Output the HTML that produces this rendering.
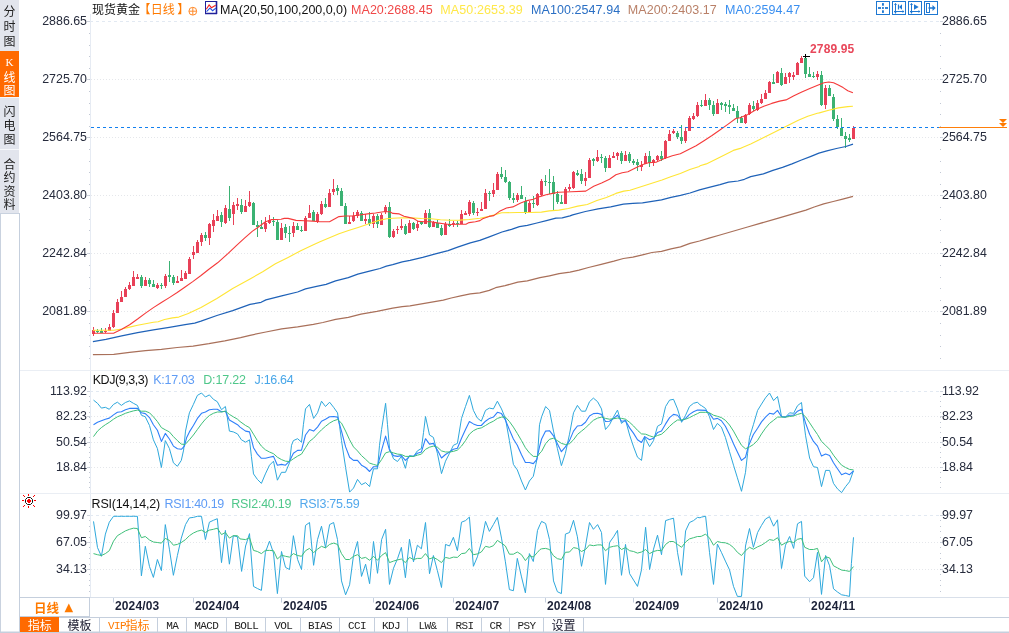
<!DOCTYPE html>
<html lang="zh-CN"><head><meta charset="utf-8"><title>现货黄金 日线</title>
<style>
html,body{margin:0;padding:0;background:#fff;}
body{width:1009px;height:633px;overflow:hidden;position:relative;font-family:"Liberation Sans","Noto Sans CJK SC",sans-serif;}
svg{position:absolute;left:0;top:0;display:block}
text{font-family:"Liberation Sans","Noto Sans CJK SC",sans-serif;}
.ax{font-size:12.4px;fill:#262b3c;}
.ttl{font-size:12.5px;}
.dt{font-size:12px;font-weight:bold;fill:#1c2238;}
.cj{font-family:"Noto Sans CJK SC","Liberation Sans",sans-serif;}
.tab{font-family:"Liberation Mono","Noto Sans CJK SC",monospace;font-size:11px;letter-spacing:-0.6px;fill:#222;}
.side{font-family:"Noto Sans CJK SC","Liberation Sans",sans-serif;font-size:12px;fill:#222;}
.grid{stroke:#e5e7eb;stroke-width:1;stroke-dasharray:1 2;}
.gridd{stroke:#e2e9f2;stroke-width:1;stroke-dasharray:3 3;}
.axl{stroke:#d3dbe8;stroke-width:1;}
.sep{stroke:#dfe5ee;stroke-width:1;}
</style></head><body>
<svg width="1009" height="633" viewBox="0 0 1009 633">
<rect x="0" y="0" width="1009" height="633" fill="#fff"/>
<rect x="0" y="0" width="19" height="213" fill="#e2e5ed"/>
<rect x="0" y="51" width="19" height="46" fill="#ff6a00"/>
<line x1="0" y1="97.5" x2="19" y2="97.5" stroke="#f6f8fb"/>
<line x1="0" y1="149.5" x2="19" y2="149.5" stroke="#f6f8fb"/>
<line x1="0" y1="213.5" x2="19" y2="213.5" stroke="#c9d2df"/>
<line x1="0.5" y1="213" x2="0.5" y2="633" stroke="#c9d2df"/>
<line x1="19.5" y1="213" x2="19.5" y2="633" stroke="#c5cfdd"/>
<text x="9.5" y="16" text-anchor="middle" class="side" fill="#222" style="fill:#222">分</text>
<text x="9.5" y="31" text-anchor="middle" class="side" fill="#222" style="fill:#222">时</text>
<text x="9.5" y="46" text-anchor="middle" class="side" fill="#222" style="fill:#222">图</text>
<text x="9.5" y="65.5" text-anchor="middle" style="font-family:'Liberation Serif',serif;font-size:11px;fill:#fff">K</text>
<text x="9.5" y="81.5" text-anchor="middle" class="side" fill="#fff" style="fill:#fff">线</text>
<text x="9.5" y="95.0" text-anchor="middle" class="side" fill="#fff" style="fill:#fff">图</text>
<text x="9.5" y="115.5" text-anchor="middle" class="side" fill="#222" style="fill:#222">闪</text>
<text x="9.5" y="129.8" text-anchor="middle" class="side" fill="#222" style="fill:#222">电</text>
<text x="9.5" y="144.1" text-anchor="middle" class="side" fill="#222" style="fill:#222">图</text>
<text x="9.5" y="168.5" text-anchor="middle" class="side" fill="#222" style="fill:#222">合</text>
<text x="9.5" y="182.1" text-anchor="middle" class="side" fill="#222" style="fill:#222">约</text>
<text x="9.5" y="195.7" text-anchor="middle" class="side" fill="#222" style="fill:#222">资</text>
<text x="9.5" y="209.3" text-anchor="middle" class="side" fill="#222" style="fill:#222">料</text>
<line x1="90" y1="21.5" x2="939" y2="21.5" class="gridd"/>
<line x1="87" y1="21.5" x2="90" y2="21.5" stroke="#cfd4dd"/>
<line x1="940" y1="21.5" x2="943" y2="21.5" stroke="#cfd4dd"/>
<line x1="91" y1="79.5" x2="939" y2="79.5" class="grid"/>
<line x1="87" y1="79.5" x2="90" y2="79.5" stroke="#cfd4dd"/>
<line x1="940" y1="79.5" x2="943" y2="79.5" stroke="#cfd4dd"/>
<line x1="91" y1="137.5" x2="939" y2="137.5" class="grid"/>
<line x1="87" y1="137.5" x2="90" y2="137.5" stroke="#cfd4dd"/>
<line x1="940" y1="137.5" x2="943" y2="137.5" stroke="#cfd4dd"/>
<line x1="91" y1="195.5" x2="939" y2="195.5" class="grid"/>
<line x1="87" y1="195.5" x2="90" y2="195.5" stroke="#cfd4dd"/>
<line x1="940" y1="195.5" x2="943" y2="195.5" stroke="#cfd4dd"/>
<line x1="91" y1="253.5" x2="939" y2="253.5" class="grid"/>
<line x1="87" y1="253.5" x2="90" y2="253.5" stroke="#cfd4dd"/>
<line x1="940" y1="253.5" x2="943" y2="253.5" stroke="#cfd4dd"/>
<line x1="91" y1="311.5" x2="939" y2="311.5" class="grid"/>
<line x1="87" y1="311.5" x2="90" y2="311.5" stroke="#cfd4dd"/>
<line x1="940" y1="311.5" x2="943" y2="311.5" stroke="#cfd4dd"/>
<line x1="90" y1="391.5" x2="939" y2="391.5" class="gridd"/>
<line x1="87" y1="391.5" x2="90" y2="391.5" stroke="#cfd4dd"/>
<line x1="940" y1="391.5" x2="943" y2="391.5" stroke="#cfd4dd"/>
<line x1="91" y1="416.5" x2="939" y2="416.5" class="grid"/>
<line x1="87" y1="416.5" x2="90" y2="416.5" stroke="#cfd4dd"/>
<line x1="940" y1="416.5" x2="943" y2="416.5" stroke="#cfd4dd"/>
<line x1="91" y1="442.5" x2="939" y2="442.5" class="grid"/>
<line x1="87" y1="442.5" x2="90" y2="442.5" stroke="#cfd4dd"/>
<line x1="940" y1="442.5" x2="943" y2="442.5" stroke="#cfd4dd"/>
<line x1="91" y1="467.5" x2="939" y2="467.5" class="grid"/>
<line x1="87" y1="467.5" x2="90" y2="467.5" stroke="#cfd4dd"/>
<line x1="940" y1="467.5" x2="943" y2="467.5" stroke="#cfd4dd"/>
<line x1="90" y1="515.5" x2="939" y2="515.5" class="gridd"/>
<line x1="87" y1="515.5" x2="90" y2="515.5" stroke="#cfd4dd"/>
<line x1="940" y1="515.5" x2="943" y2="515.5" stroke="#cfd4dd"/>
<line x1="91" y1="542.5" x2="939" y2="542.5" class="grid"/>
<line x1="87" y1="542.5" x2="90" y2="542.5" stroke="#cfd4dd"/>
<line x1="940" y1="542.5" x2="943" y2="542.5" stroke="#cfd4dd"/>
<line x1="91" y1="569.5" x2="939" y2="569.5" class="grid"/>
<line x1="87" y1="569.5" x2="90" y2="569.5" stroke="#cfd4dd"/>
<line x1="940" y1="569.5" x2="943" y2="569.5" stroke="#cfd4dd"/>
<line x1="90.5" y1="14" x2="90.5" y2="597" stroke="#e6ebf3"/>
<rect x="89" y="33" width="1" height="1" fill="#c2c8d4"/>
<rect x="940" y="33" width="1" height="1" fill="#c2c8d4"/>
<rect x="89" y="45" width="1" height="1" fill="#c2c8d4"/>
<rect x="940" y="45" width="1" height="1" fill="#c2c8d4"/>
<rect x="89" y="56" width="1" height="1" fill="#c2c8d4"/>
<rect x="940" y="56" width="1" height="1" fill="#c2c8d4"/>
<rect x="89" y="68" width="1" height="1" fill="#c2c8d4"/>
<rect x="940" y="68" width="1" height="1" fill="#c2c8d4"/>
<rect x="89" y="79" width="1" height="1" fill="#c2c8d4"/>
<rect x="940" y="79" width="1" height="1" fill="#c2c8d4"/>
<rect x="89" y="91" width="1" height="1" fill="#c2c8d4"/>
<rect x="940" y="91" width="1" height="1" fill="#c2c8d4"/>
<rect x="89" y="103" width="1" height="1" fill="#c2c8d4"/>
<rect x="940" y="103" width="1" height="1" fill="#c2c8d4"/>
<rect x="89" y="114" width="1" height="1" fill="#c2c8d4"/>
<rect x="940" y="114" width="1" height="1" fill="#c2c8d4"/>
<rect x="89" y="126" width="1" height="1" fill="#c2c8d4"/>
<rect x="940" y="126" width="1" height="1" fill="#c2c8d4"/>
<rect x="89" y="137" width="1" height="1" fill="#c2c8d4"/>
<rect x="940" y="137" width="1" height="1" fill="#c2c8d4"/>
<rect x="89" y="149" width="1" height="1" fill="#c2c8d4"/>
<rect x="940" y="149" width="1" height="1" fill="#c2c8d4"/>
<rect x="89" y="161" width="1" height="1" fill="#c2c8d4"/>
<rect x="940" y="161" width="1" height="1" fill="#c2c8d4"/>
<rect x="89" y="172" width="1" height="1" fill="#c2c8d4"/>
<rect x="940" y="172" width="1" height="1" fill="#c2c8d4"/>
<rect x="89" y="184" width="1" height="1" fill="#c2c8d4"/>
<rect x="940" y="184" width="1" height="1" fill="#c2c8d4"/>
<rect x="89" y="195" width="1" height="1" fill="#c2c8d4"/>
<rect x="940" y="195" width="1" height="1" fill="#c2c8d4"/>
<rect x="89" y="207" width="1" height="1" fill="#c2c8d4"/>
<rect x="940" y="207" width="1" height="1" fill="#c2c8d4"/>
<rect x="89" y="219" width="1" height="1" fill="#c2c8d4"/>
<rect x="940" y="219" width="1" height="1" fill="#c2c8d4"/>
<rect x="89" y="230" width="1" height="1" fill="#c2c8d4"/>
<rect x="940" y="230" width="1" height="1" fill="#c2c8d4"/>
<rect x="89" y="242" width="1" height="1" fill="#c2c8d4"/>
<rect x="940" y="242" width="1" height="1" fill="#c2c8d4"/>
<rect x="89" y="253" width="1" height="1" fill="#c2c8d4"/>
<rect x="940" y="253" width="1" height="1" fill="#c2c8d4"/>
<rect x="89" y="265" width="1" height="1" fill="#c2c8d4"/>
<rect x="940" y="265" width="1" height="1" fill="#c2c8d4"/>
<rect x="89" y="277" width="1" height="1" fill="#c2c8d4"/>
<rect x="940" y="277" width="1" height="1" fill="#c2c8d4"/>
<rect x="89" y="288" width="1" height="1" fill="#c2c8d4"/>
<rect x="940" y="288" width="1" height="1" fill="#c2c8d4"/>
<rect x="89" y="300" width="1" height="1" fill="#c2c8d4"/>
<rect x="940" y="300" width="1" height="1" fill="#c2c8d4"/>
<rect x="89" y="311" width="1" height="1" fill="#c2c8d4"/>
<rect x="940" y="311" width="1" height="1" fill="#c2c8d4"/>
<rect x="89" y="323" width="1" height="1" fill="#c2c8d4"/>
<rect x="940" y="323" width="1" height="1" fill="#c2c8d4"/>
<rect x="89" y="335" width="1" height="1" fill="#c2c8d4"/>
<rect x="940" y="335" width="1" height="1" fill="#c2c8d4"/>
<rect x="89" y="346" width="1" height="1" fill="#c2c8d4"/>
<rect x="940" y="346" width="1" height="1" fill="#c2c8d4"/>
<rect x="89" y="358" width="1" height="1" fill="#c2c8d4"/>
<rect x="940" y="358" width="1" height="1" fill="#c2c8d4"/>
<rect x="89" y="396" width="1" height="1" fill="#c2c8d4"/>
<rect x="940" y="396" width="1" height="1" fill="#c2c8d4"/>
<rect x="89" y="401" width="1" height="1" fill="#c2c8d4"/>
<rect x="940" y="401" width="1" height="1" fill="#c2c8d4"/>
<rect x="89" y="406" width="1" height="1" fill="#c2c8d4"/>
<rect x="940" y="406" width="1" height="1" fill="#c2c8d4"/>
<rect x="89" y="412" width="1" height="1" fill="#c2c8d4"/>
<rect x="940" y="412" width="1" height="1" fill="#c2c8d4"/>
<rect x="89" y="417" width="1" height="1" fill="#c2c8d4"/>
<rect x="940" y="417" width="1" height="1" fill="#c2c8d4"/>
<rect x="89" y="422" width="1" height="1" fill="#c2c8d4"/>
<rect x="940" y="422" width="1" height="1" fill="#c2c8d4"/>
<rect x="89" y="427" width="1" height="1" fill="#c2c8d4"/>
<rect x="940" y="427" width="1" height="1" fill="#c2c8d4"/>
<rect x="89" y="432" width="1" height="1" fill="#c2c8d4"/>
<rect x="940" y="432" width="1" height="1" fill="#c2c8d4"/>
<rect x="89" y="437" width="1" height="1" fill="#c2c8d4"/>
<rect x="940" y="437" width="1" height="1" fill="#c2c8d4"/>
<rect x="89" y="442" width="1" height="1" fill="#c2c8d4"/>
<rect x="940" y="442" width="1" height="1" fill="#c2c8d4"/>
<rect x="89" y="447" width="1" height="1" fill="#c2c8d4"/>
<rect x="940" y="447" width="1" height="1" fill="#c2c8d4"/>
<rect x="89" y="452" width="1" height="1" fill="#c2c8d4"/>
<rect x="940" y="452" width="1" height="1" fill="#c2c8d4"/>
<rect x="89" y="457" width="1" height="1" fill="#c2c8d4"/>
<rect x="940" y="457" width="1" height="1" fill="#c2c8d4"/>
<rect x="89" y="462" width="1" height="1" fill="#c2c8d4"/>
<rect x="940" y="462" width="1" height="1" fill="#c2c8d4"/>
<rect x="89" y="467" width="1" height="1" fill="#c2c8d4"/>
<rect x="940" y="467" width="1" height="1" fill="#c2c8d4"/>
<rect x="89" y="472" width="1" height="1" fill="#c2c8d4"/>
<rect x="940" y="472" width="1" height="1" fill="#c2c8d4"/>
<rect x="89" y="477" width="1" height="1" fill="#c2c8d4"/>
<rect x="940" y="477" width="1" height="1" fill="#c2c8d4"/>
<rect x="89" y="482" width="1" height="1" fill="#c2c8d4"/>
<rect x="940" y="482" width="1" height="1" fill="#c2c8d4"/>
<rect x="89" y="487" width="1" height="1" fill="#c2c8d4"/>
<rect x="940" y="487" width="1" height="1" fill="#c2c8d4"/>
<rect x="89" y="520" width="1" height="1" fill="#c2c8d4"/>
<rect x="940" y="520" width="1" height="1" fill="#c2c8d4"/>
<rect x="89" y="526" width="1" height="1" fill="#c2c8d4"/>
<rect x="940" y="526" width="1" height="1" fill="#c2c8d4"/>
<rect x="89" y="531" width="1" height="1" fill="#c2c8d4"/>
<rect x="940" y="531" width="1" height="1" fill="#c2c8d4"/>
<rect x="89" y="537" width="1" height="1" fill="#c2c8d4"/>
<rect x="940" y="537" width="1" height="1" fill="#c2c8d4"/>
<rect x="89" y="542" width="1" height="1" fill="#c2c8d4"/>
<rect x="940" y="542" width="1" height="1" fill="#c2c8d4"/>
<rect x="89" y="547" width="1" height="1" fill="#c2c8d4"/>
<rect x="940" y="547" width="1" height="1" fill="#c2c8d4"/>
<rect x="89" y="553" width="1" height="1" fill="#c2c8d4"/>
<rect x="940" y="553" width="1" height="1" fill="#c2c8d4"/>
<rect x="89" y="558" width="1" height="1" fill="#c2c8d4"/>
<rect x="940" y="558" width="1" height="1" fill="#c2c8d4"/>
<rect x="89" y="564" width="1" height="1" fill="#c2c8d4"/>
<rect x="940" y="564" width="1" height="1" fill="#c2c8d4"/>
<rect x="89" y="569" width="1" height="1" fill="#c2c8d4"/>
<rect x="940" y="569" width="1" height="1" fill="#c2c8d4"/>
<rect x="89" y="574" width="1" height="1" fill="#c2c8d4"/>
<rect x="940" y="574" width="1" height="1" fill="#c2c8d4"/>
<rect x="89" y="580" width="1" height="1" fill="#c2c8d4"/>
<rect x="940" y="580" width="1" height="1" fill="#c2c8d4"/>
<rect x="89" y="585" width="1" height="1" fill="#c2c8d4"/>
<rect x="940" y="585" width="1" height="1" fill="#c2c8d4"/>
<rect x="89" y="591" width="1" height="1" fill="#c2c8d4"/>
<rect x="940" y="591" width="1" height="1" fill="#c2c8d4"/>
<line x1="20" y1="370.5" x2="1009" y2="370.5" stroke="#eaeef4"/>
<line x1="20" y1="493.5" x2="1009" y2="493.5" stroke="#eaeef4"/>
<line x1="20" y1="597.5" x2="1009" y2="597.5" stroke="#d9e0ea"/>
<line x1="20" y1="617.5" x2="1009" y2="617.5" stroke="#c5cfdd"/>
<rect x="0" y="631.500" width="1009" height="1.500" fill="#c5cfdd"/>
<text x="87" y="25" text-anchor="end" class="ax">2886.65</text>
<text x="942" y="25" class="ax">2886.65</text>
<text x="87" y="83" text-anchor="end" class="ax">2725.70</text>
<text x="942" y="83" class="ax">2725.70</text>
<text x="87" y="141" text-anchor="end" class="ax">2564.75</text>
<text x="942" y="141" class="ax">2564.75</text>
<text x="87" y="199" text-anchor="end" class="ax">2403.80</text>
<text x="942" y="199" class="ax">2403.80</text>
<text x="87" y="257" text-anchor="end" class="ax">2242.84</text>
<text x="942" y="257" class="ax">2242.84</text>
<text x="87" y="315" text-anchor="end" class="ax">2081.89</text>
<text x="942" y="315" class="ax">2081.89</text>
<text x="87" y="395" text-anchor="end" class="ax">113.92</text>
<text x="942" y="395" class="ax">113.92</text>
<text x="87" y="420" text-anchor="end" class="ax">82.23</text>
<text x="942" y="420" class="ax">82.23</text>
<text x="87" y="446" text-anchor="end" class="ax">50.54</text>
<text x="942" y="446" class="ax">50.54</text>
<text x="87" y="471" text-anchor="end" class="ax">18.84</text>
<text x="942" y="471" class="ax">18.84</text>
<text x="87" y="519" text-anchor="end" class="ax">99.97</text>
<text x="942" y="519" class="ax">99.97</text>
<text x="87" y="546" text-anchor="end" class="ax">67.05</text>
<text x="942" y="546" class="ax">67.05</text>
<text x="87" y="573" text-anchor="end" class="ax">34.13</text>
<text x="942" y="573" class="ax">34.13</text>
<g shape-rendering="crispEdges">
<rect x="93" y="327" width="1" height="9" fill="#e84158"/><rect x="92" y="330" width="3" height="4" fill="#e84158"/>
<rect x="97" y="329" width="1" height="4" fill="#3bb273"/><rect x="96" y="331" width="3" height="1" fill="#3bb273"/>
<rect x="101" y="328" width="1" height="5" fill="#3bb273"/><rect x="100" y="331" width="3" height="2" fill="#3bb273"/>
<rect x="105" y="328" width="1" height="5" fill="#e84158"/><rect x="104" y="331" width="3" height="1" fill="#e84158"/>
<rect x="109" y="324" width="1" height="7" fill="#e84158"/><rect x="108" y="327" width="3" height="4" fill="#e84158"/>
<rect x="113" y="310" width="1" height="18" fill="#e84158"/><rect x="112" y="313" width="3" height="14" fill="#e84158"/>
<rect x="117" y="299" width="1" height="14" fill="#e84158"/><rect x="116" y="302" width="3" height="11" fill="#e84158"/>
<rect x="121" y="291" width="1" height="11" fill="#e84158"/><rect x="120" y="297" width="3" height="5" fill="#e84158"/>
<rect x="125" y="287" width="1" height="10" fill="#e84158"/><rect x="124" y="289" width="3" height="8" fill="#e84158"/>
<rect x="129" y="282" width="1" height="8" fill="#e84158"/><rect x="128" y="285" width="3" height="4" fill="#e84158"/>
<rect x="133" y="271" width="1" height="15" fill="#e84158"/><rect x="132" y="277" width="3" height="9" fill="#e84158"/>
<rect x="137" y="274" width="1" height="5" fill="#e84158"/><rect x="136" y="277" width="3" height="2" fill="#e84158"/>
<rect x="141" y="275" width="1" height="13" fill="#3bb273"/><rect x="140" y="277" width="3" height="9" fill="#3bb273"/>
<rect x="145" y="277" width="1" height="9" fill="#e84158"/><rect x="144" y="280" width="3" height="6" fill="#e84158"/>
<rect x="149" y="278" width="1" height="9" fill="#3bb273"/><rect x="148" y="280" width="3" height="4" fill="#3bb273"/>
<rect x="153" y="280" width="1" height="7" fill="#3bb273"/><rect x="152" y="284" width="3" height="3" fill="#3bb273"/>
<rect x="157" y="283" width="1" height="6" fill="#e84158"/><rect x="156" y="285" width="3" height="3" fill="#e84158"/>
<rect x="161" y="283" width="1" height="6" fill="#3bb273"/><rect x="160" y="285" width="3" height="1" fill="#3bb273"/>
<rect x="165" y="274" width="1" height="14" fill="#e84158"/><rect x="164" y="276" width="3" height="10" fill="#e84158"/>
<rect x="169" y="261" width="1" height="21" fill="#3bb273"/><rect x="168" y="275" width="3" height="2" fill="#3bb273"/>
<rect x="173" y="275" width="1" height="10" fill="#3bb273"/><rect x="172" y="277" width="3" height="6" fill="#3bb273"/>
<rect x="177" y="276" width="1" height="7" fill="#e84158"/><rect x="176" y="281" width="3" height="2" fill="#e84158"/>
<rect x="181" y="270" width="1" height="11" fill="#e84158"/><rect x="180" y="278" width="3" height="3" fill="#e84158"/>
<rect x="185" y="271" width="1" height="8" fill="#e84158"/><rect x="184" y="273" width="3" height="6" fill="#e84158"/>
<rect x="189" y="257" width="1" height="17" fill="#e84158"/><rect x="188" y="259" width="3" height="15" fill="#e84158"/>
<rect x="193" y="246" width="1" height="13" fill="#e84158"/><rect x="192" y="252" width="3" height="3" fill="#e84158"/>
<rect x="197" y="240" width="1" height="13" fill="#e84158"/><rect x="196" y="242" width="3" height="11" fill="#e84158"/>
<rect x="201" y="233" width="1" height="13" fill="#e84158"/><rect x="200" y="235" width="3" height="7" fill="#e84158"/>
<rect x="205" y="232" width="1" height="9" fill="#3bb273"/><rect x="204" y="235" width="3" height="3" fill="#3bb273"/>
<rect x="209" y="223" width="1" height="22" fill="#e84158"/><rect x="208" y="224" width="3" height="14" fill="#e84158"/>
<rect x="213" y="214" width="1" height="18" fill="#e84158"/><rect x="212" y="220" width="3" height="6" fill="#e84158"/>
<rect x="217" y="210" width="1" height="11" fill="#e84158"/><rect x="216" y="216" width="3" height="5" fill="#e84158"/>
<rect x="221" y="212" width="1" height="15" fill="#3bb273"/><rect x="220" y="215" width="3" height="7" fill="#3bb273"/>
<rect x="225" y="205" width="1" height="19" fill="#e84158"/><rect x="224" y="208" width="3" height="15" fill="#e84158"/>
<rect x="229" y="186" width="1" height="35" fill="#3bb273"/><rect x="228" y="209" width="3" height="9" fill="#3bb273"/>
<rect x="233" y="202" width="1" height="23" fill="#e84158"/><rect x="232" y="205" width="3" height="9" fill="#e84158"/>
<rect x="237" y="198" width="1" height="12" fill="#e84158"/><rect x="236" y="204" width="3" height="2" fill="#e84158"/>
<rect x="241" y="199" width="1" height="15" fill="#3bb273"/><rect x="240" y="205" width="3" height="7" fill="#3bb273"/>
<rect x="245" y="200" width="1" height="12" fill="#e84158"/><rect x="244" y="206" width="3" height="6" fill="#e84158"/>
<rect x="249" y="191" width="1" height="16" fill="#e84158"/><rect x="248" y="202" width="3" height="4" fill="#e84158"/>
<rect x="253" y="202" width="1" height="23" fill="#3bb273"/><rect x="252" y="203" width="3" height="22" fill="#3bb273"/>
<rect x="257" y="221" width="1" height="16" fill="#3bb273"/><rect x="256" y="225" width="3" height="2" fill="#3bb273"/>
<rect x="261" y="220" width="1" height="9" fill="#3bb273"/><rect x="260" y="227" width="3" height="2" fill="#3bb273"/>
<rect x="265" y="217" width="1" height="15" fill="#e84158"/><rect x="264" y="223" width="3" height="6" fill="#e84158"/>
<rect x="269" y="215" width="1" height="9" fill="#e84158"/><rect x="268" y="220" width="3" height="3" fill="#e84158"/>
<rect x="273" y="217" width="1" height="9" fill="#3bb273"/><rect x="272" y="221" width="3" height="1" fill="#3bb273"/>
<rect x="277" y="220" width="1" height="20" fill="#3bb273"/><rect x="276" y="222" width="3" height="18" fill="#3bb273"/>
<rect x="281" y="223" width="1" height="17" fill="#e84158"/><rect x="280" y="228" width="3" height="12" fill="#e84158"/>
<rect x="285" y="224" width="1" height="14" fill="#3bb273"/><rect x="284" y="227" width="3" height="6" fill="#3bb273"/>
<rect x="289" y="226" width="1" height="16" fill="#3bb273"/><rect x="288" y="233" width="3" height="1" fill="#3bb273"/>
<rect x="293" y="222" width="1" height="15" fill="#e84158"/><rect x="292" y="226" width="3" height="7" fill="#e84158"/>
<rect x="297" y="223" width="1" height="7" fill="#3bb273"/><rect x="296" y="226" width="3" height="4" fill="#3bb273"/>
<rect x="301" y="226" width="1" height="6" fill="#3bb273"/><rect x="300" y="230" width="3" height="1" fill="#3bb273"/>
<rect x="305" y="216" width="1" height="15" fill="#e84158"/><rect x="304" y="218" width="3" height="13" fill="#e84158"/>
<rect x="309" y="205" width="1" height="13" fill="#e84158"/><rect x="308" y="213" width="3" height="5" fill="#e84158"/>
<rect x="313" y="210" width="1" height="11" fill="#3bb273"/><rect x="312" y="212" width="3" height="9" fill="#3bb273"/>
<rect x="317" y="212" width="1" height="11" fill="#e84158"/><rect x="316" y="214" width="3" height="8" fill="#e84158"/>
<rect x="321" y="201" width="1" height="14" fill="#e84158"/><rect x="320" y="204" width="3" height="10" fill="#e84158"/>
<rect x="325" y="198" width="1" height="10" fill="#3bb273"/><rect x="324" y="204" width="3" height="3" fill="#3bb273"/>
<rect x="329" y="189" width="1" height="18" fill="#e84158"/><rect x="328" y="193" width="3" height="14" fill="#e84158"/>
<rect x="333" y="179" width="1" height="16" fill="#e84158"/><rect x="332" y="189" width="3" height="3" fill="#e84158"/>
<rect x="337" y="185" width="1" height="10" fill="#3bb273"/><rect x="336" y="188" width="3" height="3" fill="#3bb273"/>
<rect x="341" y="188" width="1" height="18" fill="#3bb273"/><rect x="340" y="191" width="3" height="15" fill="#3bb273"/>
<rect x="345" y="203" width="1" height="21" fill="#3bb273"/><rect x="344" y="206" width="3" height="18" fill="#3bb273"/>
<rect x="349" y="216" width="1" height="8" fill="#e84158"/><rect x="348" y="222" width="3" height="2" fill="#e84158"/>
<rect x="353" y="212" width="1" height="10" fill="#e84158"/><rect x="352" y="216" width="3" height="5" fill="#e84158"/>
<rect x="357" y="210" width="1" height="8" fill="#e84158"/><rect x="356" y="212" width="3" height="4" fill="#e84158"/>
<rect x="361" y="211" width="1" height="10" fill="#3bb273"/><rect x="360" y="213" width="3" height="8" fill="#3bb273"/>
<rect x="365" y="214" width="1" height="10" fill="#e84158"/><rect x="364" y="219" width="3" height="2" fill="#e84158"/>
<rect x="369" y="212" width="1" height="14" fill="#3bb273"/><rect x="368" y="219" width="3" height="5" fill="#3bb273"/>
<rect x="373" y="214" width="1" height="14" fill="#e84158"/><rect x="372" y="216" width="3" height="8" fill="#e84158"/>
<rect x="377" y="214" width="1" height="14" fill="#3bb273"/><rect x="376" y="216" width="3" height="8" fill="#3bb273"/>
<rect x="381" y="213" width="1" height="12" fill="#e84158"/><rect x="380" y="215" width="3" height="10" fill="#e84158"/>
<rect x="385" y="205" width="1" height="9" fill="#e84158"/><rect x="384" y="207" width="3" height="5" fill="#e84158"/>
<rect x="389" y="202" width="1" height="36" fill="#3bb273"/><rect x="388" y="207" width="3" height="30" fill="#3bb273"/>
<rect x="393" y="229" width="1" height="9" fill="#e84158"/><rect x="392" y="231" width="3" height="6" fill="#e84158"/>
<rect x="397" y="226" width="1" height="8" fill="#e84158"/><rect x="396" y="229" width="3" height="1" fill="#e84158"/>
<rect x="401" y="219" width="1" height="11" fill="#e84158"/><rect x="400" y="226" width="3" height="2" fill="#e84158"/>
<rect x="405" y="224" width="1" height="11" fill="#3bb273"/><rect x="404" y="226" width="3" height="8" fill="#3bb273"/>
<rect x="409" y="220" width="1" height="13" fill="#e84158"/><rect x="408" y="223" width="3" height="10" fill="#e84158"/>
<rect x="413" y="222" width="1" height="8" fill="#3bb273"/><rect x="412" y="223" width="3" height="6" fill="#3bb273"/>
<rect x="417" y="221" width="1" height="10" fill="#e84158"/><rect x="416" y="224" width="3" height="4" fill="#e84158"/>
<rect x="421" y="221" width="1" height="4" fill="#3bb273"/><rect x="420" y="222" width="3" height="2" fill="#3bb273"/>
<rect x="425" y="210" width="1" height="14" fill="#e84158"/><rect x="424" y="213" width="3" height="11" fill="#e84158"/>
<rect x="429" y="209" width="1" height="19" fill="#3bb273"/><rect x="428" y="213" width="3" height="14" fill="#3bb273"/>
<rect x="433" y="221" width="1" height="6" fill="#e84158"/><rect x="432" y="222" width="3" height="5" fill="#e84158"/>
<rect x="437" y="220" width="1" height="8" fill="#3bb273"/><rect x="436" y="223" width="3" height="5" fill="#3bb273"/>
<rect x="441" y="225" width="1" height="11" fill="#3bb273"/><rect x="440" y="228" width="3" height="7" fill="#3bb273"/>
<rect x="445" y="222" width="1" height="13" fill="#e84158"/><rect x="444" y="224" width="3" height="11" fill="#e84158"/>
<rect x="449" y="219" width="1" height="8" fill="#3bb273"/><rect x="448" y="224" width="3" height="2" fill="#3bb273"/>
<rect x="453" y="221" width="1" height="6" fill="#e84158"/><rect x="452" y="223" width="3" height="1" fill="#e84158"/>
<rect x="457" y="221" width="1" height="6" fill="#3bb273"/><rect x="456" y="223" width="3" height="1" fill="#3bb273"/>
<rect x="461" y="210" width="1" height="14" fill="#e84158"/><rect x="460" y="214" width="3" height="10" fill="#e84158"/>
<rect x="465" y="211" width="1" height="4" fill="#e84158"/><rect x="464" y="213" width="3" height="2" fill="#e84158"/>
<rect x="469" y="200" width="1" height="16" fill="#e84158"/><rect x="468" y="202" width="3" height="12" fill="#e84158"/>
<rect x="473" y="201" width="1" height="14" fill="#3bb273"/><rect x="472" y="203" width="3" height="10" fill="#3bb273"/>
<rect x="477" y="208" width="1" height="8" fill="#e84158"/><rect x="476" y="212" width="3" height="1" fill="#e84158"/>
<rect x="481" y="202" width="1" height="9" fill="#e84158"/><rect x="480" y="209" width="3" height="2" fill="#e84158"/>
<rect x="485" y="189" width="1" height="20" fill="#e84158"/><rect x="484" y="193" width="3" height="16" fill="#e84158"/>
<rect x="489" y="191" width="1" height="10" fill="#3bb273"/><rect x="488" y="193" width="3" height="1" fill="#3bb273"/>
<rect x="493" y="183" width="1" height="14" fill="#e84158"/><rect x="492" y="190" width="3" height="4" fill="#e84158"/>
<rect x="497" y="172" width="1" height="18" fill="#e84158"/><rect x="496" y="174" width="3" height="16" fill="#e84158"/>
<rect x="501" y="167" width="1" height="12" fill="#3bb273"/><rect x="500" y="174" width="3" height="3" fill="#3bb273"/>
<rect x="505" y="170" width="1" height="13" fill="#3bb273"/><rect x="504" y="177" width="3" height="5" fill="#3bb273"/>
<rect x="509" y="181" width="1" height="19" fill="#3bb273"/><rect x="508" y="182" width="3" height="16" fill="#3bb273"/>
<rect x="513" y="193" width="1" height="10" fill="#3bb273"/><rect x="512" y="198" width="3" height="2" fill="#3bb273"/>
<rect x="517" y="193" width="1" height="9" fill="#e84158"/><rect x="516" y="195" width="3" height="5" fill="#e84158"/>
<rect x="521" y="186" width="1" height="13" fill="#3bb273"/><rect x="520" y="195" width="3" height="4" fill="#3bb273"/>
<rect x="525" y="197" width="1" height="17" fill="#3bb273"/><rect x="524" y="201" width="3" height="11" fill="#3bb273"/>
<rect x="529" y="201" width="1" height="11" fill="#e84158"/><rect x="528" y="203" width="3" height="9" fill="#e84158"/>
<rect x="533" y="196" width="1" height="12" fill="#3bb273"/><rect x="532" y="203" width="3" height="1" fill="#3bb273"/>
<rect x="537" y="193" width="1" height="13" fill="#e84158"/><rect x="536" y="194" width="3" height="11" fill="#e84158"/>
<rect x="541" y="179" width="1" height="17" fill="#e84158"/><rect x="540" y="181" width="3" height="14" fill="#e84158"/>
<rect x="545" y="175" width="1" height="11" fill="#3bb273"/><rect x="544" y="181" width="3" height="1" fill="#3bb273"/>
<rect x="549" y="169" width="1" height="25" fill="#3bb273"/><rect x="548" y="182" width="3" height="1" fill="#3bb273"/>
<rect x="553" y="176" width="1" height="34" fill="#3bb273"/><rect x="552" y="182" width="3" height="12" fill="#3bb273"/>
<rect x="557" y="191" width="1" height="13" fill="#3bb273"/><rect x="556" y="194" width="3" height="8" fill="#3bb273"/>
<rect x="561" y="195" width="1" height="9" fill="#3bb273"/><rect x="560" y="202" width="3" height="2" fill="#3bb273"/>
<rect x="565" y="187" width="1" height="17" fill="#e84158"/><rect x="564" y="189" width="3" height="15" fill="#e84158"/>
<rect x="569" y="184" width="1" height="7" fill="#e84158"/><rect x="568" y="187" width="3" height="2" fill="#e84158"/>
<rect x="573" y="171" width="1" height="18" fill="#e84158"/><rect x="572" y="172" width="3" height="16" fill="#e84158"/>
<rect x="577" y="170" width="1" height="6" fill="#3bb273"/><rect x="576" y="173" width="3" height="2" fill="#3bb273"/>
<rect x="581" y="169" width="1" height="15" fill="#3bb273"/><rect x="580" y="174" width="3" height="7" fill="#3bb273"/>
<rect x="585" y="172" width="1" height="14" fill="#e84158"/><rect x="584" y="178" width="3" height="3" fill="#e84158"/>
<rect x="589" y="158" width="1" height="20" fill="#e84158"/><rect x="588" y="160" width="3" height="18" fill="#e84158"/>
<rect x="593" y="158" width="1" height="8" fill="#3bb273"/><rect x="592" y="159" width="3" height="2" fill="#3bb273"/>
<rect x="597" y="150" width="1" height="12" fill="#e84158"/><rect x="596" y="157" width="3" height="4" fill="#e84158"/>
<rect x="601" y="154" width="1" height="9" fill="#3bb273"/><rect x="600" y="157" width="3" height="1" fill="#3bb273"/>
<rect x="605" y="156" width="1" height="16" fill="#3bb273"/><rect x="604" y="158" width="3" height="10" fill="#3bb273"/>
<rect x="609" y="155" width="1" height="13" fill="#e84158"/><rect x="608" y="158" width="3" height="10" fill="#e84158"/>
<rect x="613" y="152" width="1" height="6" fill="#e84158"/><rect x="612" y="156" width="3" height="2" fill="#e84158"/>
<rect x="617" y="152" width="1" height="8" fill="#e84158"/><rect x="616" y="153" width="3" height="3" fill="#e84158"/>
<rect x="621" y="151" width="1" height="13" fill="#3bb273"/><rect x="620" y="153" width="3" height="8" fill="#3bb273"/>
<rect x="625" y="151" width="1" height="10" fill="#e84158"/><rect x="624" y="155" width="3" height="6" fill="#e84158"/>
<rect x="629" y="152" width="1" height="11" fill="#3bb273"/><rect x="628" y="154" width="3" height="7" fill="#3bb273"/>
<rect x="633" y="159" width="1" height="6" fill="#3bb273"/><rect x="632" y="161" width="3" height="2" fill="#3bb273"/>
<rect x="637" y="159" width="1" height="12" fill="#3bb273"/><rect x="636" y="162" width="3" height="3" fill="#3bb273"/>
<rect x="641" y="161" width="1" height="10" fill="#e84158"/><rect x="640" y="165" width="3" height="2" fill="#e84158"/>
<rect x="645" y="153" width="1" height="11" fill="#e84158"/><rect x="644" y="156" width="3" height="8" fill="#e84158"/>
<rect x="649" y="151" width="1" height="16" fill="#3bb273"/><rect x="648" y="156" width="3" height="7" fill="#3bb273"/>
<rect x="653" y="159" width="1" height="7" fill="#e84158"/><rect x="652" y="160" width="3" height="3" fill="#e84158"/>
<rect x="657" y="155" width="1" height="6" fill="#e84158"/><rect x="656" y="156" width="3" height="4" fill="#e84158"/>
<rect x="661" y="151" width="1" height="10" fill="#3bb273"/><rect x="660" y="156" width="3" height="3" fill="#3bb273"/>
<rect x="665" y="140" width="1" height="19" fill="#e84158"/><rect x="664" y="141" width="3" height="17" fill="#e84158"/>
<rect x="669" y="130" width="1" height="11" fill="#e84158"/><rect x="668" y="134" width="3" height="7" fill="#e84158"/>
<rect x="673" y="129" width="1" height="5" fill="#e84158"/><rect x="672" y="131" width="3" height="2" fill="#e84158"/>
<rect x="677" y="131" width="1" height="8" fill="#3bb273"/><rect x="676" y="133" width="3" height="4" fill="#3bb273"/>
<rect x="681" y="125" width="1" height="19" fill="#3bb273"/><rect x="680" y="137" width="3" height="4" fill="#3bb273"/>
<rect x="685" y="128" width="1" height="15" fill="#e84158"/><rect x="684" y="131" width="3" height="10" fill="#e84158"/>
<rect x="689" y="116" width="1" height="15" fill="#e84158"/><rect x="688" y="118" width="3" height="13" fill="#e84158"/>
<rect x="693" y="113" width="1" height="7" fill="#e84158"/><rect x="692" y="116" width="3" height="3" fill="#e84158"/>
<rect x="697" y="102" width="1" height="15" fill="#e84158"/><rect x="696" y="105" width="3" height="11" fill="#e84158"/>
<rect x="701" y="100" width="1" height="7" fill="#3bb273"/><rect x="700" y="105" width="3" height="1" fill="#3bb273"/>
<rect x="705" y="94" width="1" height="12" fill="#e84158"/><rect x="704" y="100" width="3" height="6" fill="#e84158"/>
<rect x="709" y="98" width="1" height="12" fill="#3bb273"/><rect x="708" y="100" width="3" height="5" fill="#3bb273"/>
<rect x="713" y="101" width="1" height="15" fill="#3bb273"/><rect x="712" y="105" width="3" height="9" fill="#3bb273"/>
<rect x="717" y="99" width="1" height="15" fill="#e84158"/><rect x="716" y="103" width="3" height="11" fill="#e84158"/>
<rect x="721" y="102" width="1" height="8" fill="#3bb273"/><rect x="720" y="103" width="3" height="2" fill="#3bb273"/>
<rect x="725" y="102" width="1" height="10" fill="#3bb273"/><rect x="724" y="104" width="3" height="2" fill="#3bb273"/>
<rect x="729" y="100" width="1" height="14" fill="#3bb273"/><rect x="728" y="105" width="3" height="2" fill="#3bb273"/>
<rect x="733" y="104" width="1" height="7" fill="#3bb273"/><rect x="732" y="108" width="3" height="3" fill="#3bb273"/>
<rect x="737" y="106" width="1" height="17" fill="#3bb273"/><rect x="736" y="111" width="3" height="7" fill="#3bb273"/>
<rect x="741" y="116" width="1" height="7" fill="#3bb273"/><rect x="740" y="118" width="3" height="5" fill="#3bb273"/>
<rect x="745" y="114" width="1" height="10" fill="#e84158"/><rect x="744" y="115" width="3" height="8" fill="#e84158"/>
<rect x="749" y="103" width="1" height="12" fill="#e84158"/><rect x="748" y="105" width="3" height="9" fill="#e84158"/>
<rect x="753" y="101" width="1" height="10" fill="#3bb273"/><rect x="752" y="106" width="3" height="3" fill="#3bb273"/>
<rect x="757" y="100" width="1" height="11" fill="#e84158"/><rect x="756" y="103" width="3" height="7" fill="#e84158"/>
<rect x="761" y="94" width="1" height="10" fill="#e84158"/><rect x="760" y="99" width="3" height="4" fill="#e84158"/>
<rect x="765" y="90" width="1" height="9" fill="#e84158"/><rect x="764" y="93" width="3" height="6" fill="#e84158"/>
<rect x="769" y="81" width="1" height="12" fill="#e84158"/><rect x="768" y="82" width="3" height="11" fill="#e84158"/>
<rect x="773" y="74" width="1" height="10" fill="#3bb273"/><rect x="772" y="82" width="3" height="2" fill="#3bb273"/>
<rect x="777" y="71" width="1" height="12" fill="#e84158"/><rect x="776" y="72" width="3" height="11" fill="#e84158"/>
<rect x="781" y="68" width="1" height="18" fill="#3bb273"/><rect x="780" y="73" width="3" height="12" fill="#3bb273"/>
<rect x="785" y="73" width="1" height="11" fill="#e84158"/><rect x="784" y="77" width="3" height="7" fill="#e84158"/>
<rect x="789" y="72" width="1" height="11" fill="#e84158"/><rect x="788" y="73" width="3" height="4" fill="#e84158"/>
<rect x="793" y="72" width="1" height="8" fill="#e84158"/><rect x="792" y="75" width="3" height="2" fill="#e84158"/>
<rect x="797" y="62" width="1" height="13" fill="#e84158"/><rect x="796" y="63" width="3" height="12" fill="#e84158"/>
<rect x="801" y="56" width="1" height="7" fill="#e84158"/><rect x="800" y="58" width="3" height="5" fill="#e84158"/>
<rect x="805" y="56" width="1" height="22" fill="#3bb273"/><rect x="804" y="58" width="3" height="16" fill="#3bb273"/>
<rect x="809" y="67" width="1" height="10" fill="#3bb273"/><rect x="808" y="74" width="3" height="3" fill="#3bb273"/>
<rect x="813" y="72" width="1" height="6" fill="#3bb273"/><rect x="812" y="76" width="3" height="1" fill="#3bb273"/>
<rect x="817" y="71" width="1" height="9" fill="#e84158"/><rect x="816" y="74" width="3" height="3" fill="#e84158"/>
<rect x="821" y="71" width="1" height="35" fill="#3bb273"/><rect x="820" y="75" width="3" height="30" fill="#3bb273"/>
<rect x="825" y="85" width="1" height="24" fill="#e84158"/><rect x="824" y="88" width="3" height="17" fill="#e84158"/>
<rect x="829" y="85" width="1" height="11" fill="#3bb273"/><rect x="828" y="88" width="3" height="8" fill="#3bb273"/>
<rect x="833" y="94" width="1" height="27" fill="#3bb273"/><rect x="832" y="97" width="3" height="22" fill="#3bb273"/>
<rect x="837" y="115" width="1" height="14" fill="#3bb273"/><rect x="836" y="119" width="3" height="8" fill="#3bb273"/>
<rect x="841" y="118" width="1" height="18" fill="#3bb273"/><rect x="840" y="128" width="3" height="8" fill="#3bb273"/>
<rect x="845" y="132" width="1" height="16" fill="#3bb273"/><rect x="844" y="136" width="3" height="3" fill="#3bb273"/>
<rect x="849" y="134" width="1" height="8" fill="#3bb273"/><rect x="848" y="138" width="3" height="2" fill="#3bb273"/>
<rect x="853" y="126" width="1" height="13" fill="#e84158"/><rect x="852" y="128" width="3" height="11" fill="#e84158"/>
</g>
<polyline points="92.9,354.7 113.8,354.4 129.6,352.4 145.5,350.7 161.4,349.3 177.2,347.5 193.1,346.1 208.9,343.7 224.8,340.9 240.6,337.7 250.0,335.3 265.9,332.0 281.7,328.8 297.6,326.9 313.4,324.4 322.9,322.5 335.6,319.3 348.3,317.4 361.0,314.2 376.9,311.4 392.7,308.2 402.2,306.6 410.0,305.8 443.3,300.1 451.2,298.0 460.7,295.9 470.3,293.9 479.8,292.8 489.3,290.4 495.6,287.7 505.1,285.6 517.8,282.1 527.3,280.9 540.0,277.7 549.5,275.8 559.1,273.7 570.0,272.2 579.0,270.1 588.5,267.5 601.2,264.4 613.9,261.2 623.4,258.5 632.9,257.2 642.5,254.8 652.0,252.5 661.5,251.3 671.0,248.8 680.5,246.9 690.0,243.3 699.5,241.0 709.1,238.2 720.0,235.0 747.6,227.0 779.3,217.8 805.9,210.1 814.2,207.0 823.7,203.9 833.2,201.5 842.7,199.1 853.0,196.4" fill="none" stroke="#a9705a" stroke-width="1.25" stroke-linejoin="round"/>
<polyline points="92.9,341.7 105.9,339.3 121.7,335.8 137.6,332.6 153.4,329.8 169.3,327.4 185.1,324.7 194.7,323.1 201.0,321.1 216.9,315.5 232.7,310.7 250.0,304.4 261.1,302.3 265.9,299.9 281.7,295.8 297.6,292.0 305.5,288.8 316.6,286.3 326.1,284.4 335.6,280.9 348.3,277.7 357.8,274.1 370.5,270.9 380.0,268.5 386.4,266.2 392.7,264.6 402.2,261.9 410.0,260.3 422.7,257.4 435.4,253.9 448.1,250.7 457.6,247.1 470.3,242.8 479.8,240.4 489.3,236.8 502.0,232.0 511.5,229.3 519.4,226.6 527.3,225.4 536.9,223.0 546.4,220.6 555.9,218.2 562.2,217.8 570.0,215.9 572.7,214.9 585.4,211.5 598.1,208.9 610.7,206.8 623.4,204.1 632.9,203.3 642.5,202.8 652.0,201.4 661.5,199.8 671.0,197.3 680.5,195.4 690.0,193.0 699.5,189.8 709.1,187.4 720.0,184.6 728.5,182.2 738.1,181.0 744.4,179.3 750.7,176.6 763.4,173.9 772.9,170.3 782.5,167.4 792.0,163.9 801.5,160.0 811.0,156.3 818.9,153.1 826.9,150.9 836.4,148.5 845.9,146.5 853.0,144.1" fill="none" stroke="#1f62b8" stroke-width="1.25" stroke-linejoin="round"/>
<polyline points="92.9,330.2 113.8,330.2 121.7,329.0 129.6,327.1 137.6,325.3 145.5,323.7 153.4,322.2 158.2,321.8 164.5,319.5 172.5,317.9 178.8,317.1 188.3,313.6 201.0,307.6 216.9,298.5 232.7,288.5 250.0,279.0 262.7,271.7 275.4,263.8 288.1,257.4 300.7,250.8 313.4,244.8 320.0,241.7 329.5,237.7 339.0,233.7 348.5,230.6 358.1,227.4 367.6,224.2 377.1,220.9 386.6,218.7 392.9,218.2 402.5,217.7 412.0,217.9 421.5,218.5 431.0,218.7 440.5,219.8 450.0,220.2 459.5,220.1 469.1,219.5 480.0,218.2 489.0,216.4 501.7,212.8 517.6,212.5 530.3,212.5 541.4,212.1 549.3,210.9 558.8,210.1 568.3,208.5 577.8,206.1 587.3,204.5 596.9,200.6 606.4,197.4 615.9,193.4 623.8,191.1 630.0,190.3 662.0,180.1 670.7,176.7 680.3,173.6 689.8,169.6 699.3,166.4 700.0,165.8 706.3,163.9 715.9,159.2 725.4,154.4 733.3,150.4 741.2,148.1 750.7,144.1 760.3,139.3 769.8,134.6 779.3,129.8 788.8,125.1 798.3,120.3 807.8,116.3 817.3,113.2 819.3,112.9 828.8,110.2 838.3,107.9 847.8,106.6 852.9,106.3" fill="none" stroke="#ffe535" stroke-width="1.1" stroke-linejoin="round"/>
<polyline points="92.9,333.3 113.5,333.3 121.7,329.3 129.6,324.7 137.6,319.0 145.5,313.1 153.4,307.6 161.4,302.5 169.3,297.6 177.2,292.5 185.1,287.0 193.1,281.4 201.0,275.5 208.9,269.2 217.6,262.8 227.9,253.6 236.6,245.3 244.5,238.2 252.5,231.1 258.8,226.8 265.1,222.0 271.5,219.6 281.0,219.2 284.2,218.4 288.1,218.4 296.1,220.4 304.8,220.7 312.7,221.1 320.0,221.7 329.5,221.7 339.0,216.6 345.4,216.0 351.7,216.0 359.6,215.0 367.6,213.9 375.5,213.0 383.4,211.8 389.8,211.8 392.9,213.4 399.3,213.9 404.0,216.3 408.8,217.4 413.6,218.5 418.3,221.4 424.7,221.7 431.0,221.7 437.3,222.9 443.7,223.7 450.0,224.5 458.0,224.2 465.9,224.2 469.1,222.6 475.4,221.7 480.0,220.6 482.7,218.8 489.0,216.4 493.8,215.6 500.1,210.9 506.5,208.0 512.8,206.9 520.7,202.9 527.1,200.6 533.4,199.3 539.8,196.6 546.1,194.7 552.5,193.4 558.8,192.3 571.5,191.8 585.8,191.1 593.7,186.3 601.6,183.1 609.5,179.2 615.9,174.7 622.2,172.8 627.9,171.7 635.9,167.7 642.2,164.8 648.5,162.8 656.5,162.1 664.4,158.5 672.3,155.8 680.3,153.7 688.2,149.8 696.1,145.8 704.0,140.7 712.0,135.5 719.9,130.0 727.8,124.4 735.8,118.5 740.0,117.7 747.9,114.5 755.9,109.8 763.8,106.3 771.7,103.4 779.6,101.1 786.0,99.9 793.9,95.8 801.8,92.0 809.8,88.4 817.7,85.2 824.0,82.8 828.8,82.0 833.6,82.8 838.3,84.9 843.1,87.6 847.8,90.7 852.9,92.8" fill="none" stroke="#f53a3a" stroke-width="1.1" stroke-linejoin="round"/>
<line x1="91" y1="127.5" x2="939" y2="127.5" stroke="#1380ef" stroke-width="1" stroke-dasharray="3 3"/>
<line x1="939" y1="127.5" x2="1007" y2="127.5" stroke="#ff7f0a" stroke-width="1"/>
<path d="M999 119h8l-4 4z M999 123h8l-4 4z" fill="#ff7a00"/>
<polyline points="93.5,400.1 97.5,403.3 101.4,408.1 105.4,407.3 109.3,409.3 113.5,404.4 117.4,402.2 121.4,405.4 125.4,402.5 129.5,400.9 133.4,403.3 137.4,405.4 139.2,409.7 141.4,415.2 145.3,416.8 149.5,425.5 153.4,439.8 157.4,448.5 161.4,467.5 165.3,440.6 169.4,448.5 173.4,462.8 177.4,466.3 181.3,460.4 183.6,450.1 185.5,431.1 189.4,412.8 193.4,404.4 197.4,395.4 201.5,393.0 205.4,397.0 209.4,394.9 213.4,399.3 217.3,401.7 221.5,409.7 225.4,406.5 227.2,416.8 229.4,431.1 233.3,431.9 237.5,433.9 241.4,439.8 245.6,442.2 249.5,439.8 251.4,456.4 253.5,473.9 257.4,479.4 261.4,483.4 265.4,473.9 269.5,465.2 273.5,461.2 277.4,480.2 281.5,472.3 285.5,472.3 289.5,462.8 291.5,445.3 293.4,440.6 297.6,438.7 301.5,442.2 303.4,424.7 305.5,408.9 309.5,404.4 313.6,418.4 317.5,412.8 321.5,401.2 325.5,406.5 329.6,402.2 333.6,407.3 337.5,412.8 339.6,426.3 341.5,440.6 345.6,467.5 349.6,492.1 353.5,488.1 357.5,479.4 361.5,484.7 365.6,482.6 369.6,486.6 371.6,477.0 373.5,468.8 377.5,468.8 379.5,445.3 381.6,429.5 385.6,403.3 387.5,424.7 389.5,448.5 393.5,458.8 397.5,461.5 401.4,456.4 405.4,468.3 407.4,459.6 409.5,455.6 413.5,456.4 417.4,450.9 421.4,448.5 423.5,432.6 425.5,416.5 429.5,435.0 433.4,437.4 437.4,453.3 441.5,473.6 445.5,461.2 449.5,453.3 453.4,445.3 457.4,443.4 461.5,418.4 465.5,406.5 469.4,395.4 473.4,410.4 477.4,418.1 481.3,421.2 485.5,410.4 489.4,408.1 493.4,408.9 497.4,401.2 501.5,408.9 505.4,418.4 509.4,440.6 513.4,464.4 517.3,469.9 521.5,481.0 525.4,490.0 529.4,481.0 533.3,476.3 535.9,464.4 537.5,456.4 539.5,424.7 541.6,416.8 545.6,406.5 549.5,410.4 553.5,431.1 557.4,448.5 561.4,465.6 565.4,453.3 569.5,434.2 573.5,412.8 577.4,405.4 581.5,411.2 585.5,411.2 589.5,401.7 593.4,398.1 597.6,401.7 601.5,408.9 605.5,429.5 609.5,424.7 613.6,416.8 617.5,410.1 621.5,423.4 625.5,420.0 629.6,435.0 633.6,446.9 637.5,457.2 641.5,460.4 644.7,437.4 649.6,446.6 653.5,440.6 657.5,426.3 661.5,423.9 665.6,406.5 669.6,400.1 673.5,399.3 677.5,408.9 681.6,422.3 685.6,415.2 689.5,406.5 693.5,403.3 697.5,402.2 700.0,404.9 701.6,405.7 705.6,408.5 709.5,416.8 713.5,429.5 717.4,423.4 721.4,427.1 725.4,437.4 729.5,451.7 733.5,465.2 737.4,477.8 741.5,491.3 745.5,472.3 747.6,453.3 749.5,437.4 753.4,424.7 757.6,410.4 761.5,404.1 765.5,397.8 769.5,393.0 773.6,400.6 777.5,396.5 780.1,408.9 781.5,416.5 785.5,417.1 789.6,412.8 793.6,413.3 797.5,405.7 801.5,402.5 803.1,416.8 805.6,435.8 809.6,458.0 813.5,466.7 817.5,467.5 821.5,486.6 825.6,470.4 829.6,470.4 833.5,483.4 837.5,488.9 841.6,492.6 845.6,486.6 849.5,481.8 853.5,470.7" fill="none" stroke="#2ea8dc" stroke-width="1" stroke-linejoin="round"/>
<polyline points="93.5,424.7 97.5,422.3 101.4,420.8 105.4,419.2 109.3,418.1 113.5,414.9 117.4,412.3 121.4,411.7 125.4,409.7 129.5,408.4 133.4,408.4 137.4,408.4 141.4,412.8 145.3,413.6 149.5,417.6 153.4,424.7 157.4,430.3 161.4,441.4 165.3,433.4 169.4,439.0 173.4,446.1 177.4,448.8 181.3,449.3 184.4,446.1 186.7,437.4 189.4,431.9 193.4,425.5 197.4,418.4 201.5,413.3 205.4,412.0 209.4,409.7 213.4,409.2 217.3,409.3 221.5,411.7 225.4,411.2 229.4,420.0 233.3,422.3 237.5,424.7 240.0,427.1 245.6,431.1 249.5,431.9 253.5,447.7 257.4,454.1 261.4,458.3 265.4,458.3 269.5,457.2 273.5,456.4 277.4,465.2 281.5,464.4 285.5,465.2 289.5,461.2 293.4,453.3 297.6,450.4 301.5,450.1 305.5,435.0 309.5,429.5 313.6,431.1 317.5,427.1 321.5,421.2 325.5,419.2 329.6,416.8 333.6,416.5 337.5,417.1 341.5,431.1 345.6,446.9 349.6,457.2 353.5,460.4 357.5,460.4 361.5,465.2 365.6,467.5 369.6,471.5 373.5,466.7 377.5,466.7 381.6,450.1 385.6,436.1 389.5,450.1 393.5,455.6 397.5,456.4 401.4,455.6 405.4,460.4 409.5,456.4 413.5,456.4 417.4,453.3 421.4,452.0 425.5,438.7 429.5,444.1 433.4,443.4 437.4,450.1 441.5,458.0 445.5,454.5 449.5,452.0 453.4,449.3 457.4,448.2 461.5,438.2 465.5,429.5 469.4,421.5 473.4,423.9 477.4,425.5 481.3,425.5 485.5,421.2 489.4,418.4 493.4,417.1 497.4,412.3 501.5,413.6 505.4,420.0 509.4,429.8 513.4,439.0 517.3,445.3 521.5,454.8 525.4,462.5 529.4,462.5 533.3,463.6 536.7,459.6 539.5,446.9 541.6,439.0 545.6,431.1 549.5,430.7 553.5,435.8 557.4,443.7 561.4,451.7 565.4,446.9 569.5,440.6 573.5,431.1 577.4,426.0 581.5,425.5 585.5,422.3 589.5,416.0 593.4,413.6 597.6,413.3 601.5,414.4 605.5,421.5 609.5,421.2 613.6,418.4 617.5,415.2 621.5,421.2 625.5,420.8 629.6,427.9 633.6,433.4 637.5,439.8 641.5,442.5 644.7,436.6 649.6,439.8 653.5,438.2 657.5,432.6 661.5,431.1 665.6,423.9 669.6,417.6 673.5,414.4 677.5,415.2 681.6,420.8 685.6,418.4 689.5,414.4 693.5,411.7 697.5,410.1 700.0,410.1 705.6,410.4 709.5,413.6 713.5,419.2 717.4,418.4 721.4,420.8 725.4,426.3 729.5,434.5 733.5,443.7 737.4,452.0 741.5,460.4 745.5,457.2 748.4,446.1 753.4,434.5 757.6,428.2 761.5,421.9 765.5,417.1 769.5,413.3 773.6,414.1 777.5,410.4 781.5,416.8 785.5,417.1 789.6,415.2 793.6,415.2 797.5,411.2 801.5,409.2 805.6,423.1 809.6,434.2 813.5,441.4 817.5,446.1 821.5,456.1 825.6,454.1 829.6,455.6 833.5,462.8 837.5,468.8 841.6,474.7 845.6,473.1 849.5,474.7 853.5,471.0" fill="none" stroke="#2f80fa" stroke-width="1.1" stroke-linejoin="round"/>
<polyline points="93.5,436.6 97.5,431.1 101.4,427.6 105.4,424.7 109.3,422.3 113.5,419.2 117.4,416.8 121.4,415.2 125.4,413.3 129.5,412.0 133.4,410.9 137.4,410.1 141.4,411.2 145.3,411.2 149.5,412.8 153.4,416.8 157.4,421.5 161.4,427.6 165.3,429.8 169.4,431.9 173.4,436.6 177.4,440.6 181.3,444.1 185.1,444.5 189.4,439.8 193.4,435.0 197.4,429.5 201.5,423.9 205.4,419.2 209.4,415.5 213.4,413.3 217.3,412.0 221.5,412.0 225.4,411.2 229.4,414.4 233.3,416.8 237.5,419.2 240.0,421.5 245.6,425.5 249.5,427.6 253.5,434.2 257.4,440.6 261.4,446.1 265.4,449.8 269.5,452.0 273.5,453.7 277.4,457.2 281.5,459.6 285.5,461.2 289.5,461.5 293.4,458.8 297.6,456.1 301.5,454.1 305.5,447.7 309.5,441.4 313.6,438.2 317.5,433.9 321.5,429.8 325.5,426.3 329.6,423.1 333.6,420.8 337.5,419.5 341.5,423.1 345.6,431.1 349.6,439.8 353.5,446.9 357.5,450.9 361.5,455.6 365.6,459.3 369.6,463.1 373.5,464.4 377.5,465.5 381.6,459.6 385.6,452.9 389.5,451.7 393.5,452.9 397.5,454.1 401.4,454.5 405.4,456.4 409.5,456.4 413.5,456.4 417.4,455.2 421.4,454.1 425.5,449.3 429.5,447.2 433.4,446.1 437.4,447.2 441.5,450.9 445.5,452.0 449.5,452.0 453.4,451.4 457.4,450.1 461.5,446.1 465.5,440.6 469.4,434.2 473.4,430.7 477.4,428.7 481.3,427.9 485.5,425.5 489.4,423.1 493.4,421.2 497.4,418.4 501.5,417.1 505.4,417.1 509.4,421.5 513.4,427.1 517.3,433.4 521.5,440.6 525.4,447.7 529.4,452.9 533.3,456.4 537.5,456.4 540.0,452.9 541.6,451.4 545.6,443.7 549.5,439.3 553.5,438.2 557.4,440.6 561.4,443.4 565.4,444.5 569.5,443.7 573.5,439.8 577.4,434.5 581.5,431.1 585.5,427.9 589.5,423.9 593.4,420.3 597.6,418.1 601.5,417.1 605.5,418.4 609.5,419.2 613.6,418.7 617.5,418.1 621.5,418.4 625.5,419.2 629.6,422.3 633.6,426.0 637.5,430.3 641.5,433.9 645.6,434.2 649.6,435.8 653.5,437.1 657.5,435.5 661.5,434.2 665.6,430.7 669.6,426.3 673.5,422.8 677.5,420.0 681.6,420.0 685.6,419.2 689.5,417.6 693.5,415.5 697.5,413.6 700.0,412.3 705.6,412.3 709.5,412.8 713.5,415.2 717.4,416.3 721.4,417.6 725.4,420.3 729.5,425.0 733.5,431.1 737.4,438.2 741.5,445.3 745.5,448.8 749.5,446.9 753.4,444.5 757.6,440.3 761.5,433.9 765.5,428.2 769.5,423.4 773.6,420.3 777.5,417.1 781.5,417.1 785.5,417.1 789.6,416.5 793.6,416.0 797.5,414.4 801.5,413.3 805.6,416.8 809.6,422.8 813.5,428.7 817.5,434.5 821.5,441.4 825.6,445.3 829.6,449.3 833.5,455.2 837.5,460.4 841.6,465.2 845.6,467.5 849.5,469.4 853.5,469.9" fill="none" stroke="#3fc07a" stroke-width="1" stroke-linejoin="round"/>
<polyline points="93.5,521.4 97.5,547.6 101.4,556.3 105.4,534.1 109.3,522.2 113.5,516.3 117.4,516.3 121.4,516.3 125.4,516.3 129.5,516.3 133.4,516.3 137.4,516.3 139.5,544.4 141.4,575.8 145.3,546.3 149.5,566.6 153.4,577.4 157.4,559.5 161.4,570.6 165.3,524.6 169.4,549.2 173.4,575.3 177.4,555.5 181.3,538.1 185.5,524.6 189.4,517.9 193.4,517.4 197.4,516.3 201.5,516.3 205.4,539.6 209.4,522.2 213.4,520.3 217.3,518.7 221.5,562.6 225.4,530.4 229.4,564.2 233.3,535.7 237.5,536.8 241.6,571.4 245.6,546.0 249.5,533.6 253.5,586.4 257.4,588.5 261.4,590.4 265.4,552.3 269.5,541.2 273.5,553.1 277.4,593.6 281.5,551.5 285.5,567.4 289.5,569.5 293.4,535.7 297.6,559.5 301.5,569.5 305.5,525.4 309.5,522.5 313.6,565.3 317.5,539.6 321.5,526.2 325.5,547.6 329.6,524.6 333.6,522.5 337.5,539.6 341.5,580.9 345.6,594.8 349.6,584.8 353.5,555.5 357.5,541.5 361.5,576.4 365.6,564.2 369.6,583.7 373.5,541.5 377.5,573.3 381.6,539.6 385.6,529.3 389.5,584.4 393.5,568.2 397.5,558.7 401.4,547.3 405.4,577.7 409.5,539.3 413.5,561.8 417.4,545.2 421.4,548.8 425.5,522.5 429.5,573.7 433.4,555.5 437.4,570.6 441.5,587.5 445.5,544.4 449.5,546.0 453.4,537.3 457.4,550.7 461.5,522.2 465.5,520.6 469.4,517.1 473.4,566.3 477.4,556.8 481.3,542.8 485.5,521.4 489.4,531.4 493.4,524.6 497.4,517.4 501.5,538.1 505.4,561.8 509.4,589.6 513.4,590.7 517.3,558.4 521.5,576.9 525.4,592.8 529.4,553.6 533.3,561.5 537.5,530.4 540.0,524.6 541.6,521.4 545.6,523.5 549.5,539.6 553.5,580.9 557.4,591.7 561.4,593.6 565.4,534.1 569.5,532.5 573.5,520.3 577.4,536.8 581.5,566.3 585.5,546.0 589.5,522.5 593.4,529.3 597.6,524.6 601.5,532.5 605.5,584.4 609.5,542.5 613.6,536.8 617.5,530.4 621.5,575.3 625.5,544.4 629.6,573.7 633.6,580.1 637.5,586.4 641.5,569.8 645.6,527.3 649.6,569.5 653.5,549.2 657.5,535.2 661.5,554.7 665.6,520.6 669.6,519.3 673.5,518.2 677.5,552.3 681.6,575.3 685.6,530.9 689.5,522.5 693.5,520.6 697.5,517.4 700.0,517.8 701.6,517.1 705.6,516.2 709.5,552.3 713.5,584.4 717.4,544.1 721.4,552.3 725.4,561.1 729.5,569.8 733.5,586.4 737.4,596.4 741.5,596.4 745.5,546.0 749.5,528.5 753.4,547.3 757.6,532.5 761.5,525.4 765.5,519.0 769.5,516.7 773.6,526.2 777.5,519.8 781.5,568.5 785.5,545.2 789.6,536.5 793.6,548.4 797.5,523.8 801.5,521.4 804.7,576.1 809.6,581.7 813.5,577.7 817.5,552.3 821.5,594.4 825.6,555.5 829.6,565.8 833.5,588.8 837.5,592.0 841.6,594.8 845.6,595.5 849.5,596.4 851.4,563.4 853.5,537.3" fill="none" stroke="#2ea8dc" stroke-width="1" stroke-linejoin="round"/>
<polyline points="93.5,553.6 97.5,554.7 101.4,555.5 105.4,553.6 109.3,550.7 113.5,541.2 117.4,535.7 121.4,533.3 125.4,530.9 129.5,529.3 133.4,528.2 137.4,528.5 141.4,537.7 145.3,536.5 149.5,540.0 153.4,542.0 157.4,542.5 161.4,543.1 165.3,538.4 169.4,540.4 173.4,545.2 177.4,544.4 181.3,542.5 185.5,539.6 189.4,535.7 193.4,533.0 197.4,531.2 201.5,530.1 205.4,532.5 209.4,530.1 213.4,529.3 217.3,528.2 221.5,534.6 225.4,532.5 229.4,538.1 233.3,535.7 237.5,535.7 240.0,538.9 245.6,539.6 249.5,537.7 253.5,550.4 257.4,551.5 261.4,553.6 265.4,550.4 269.5,550.4 273.5,550.7 277.4,559.0 281.5,555.2 285.5,556.3 289.5,557.1 293.4,553.6 297.6,555.5 301.5,556.3 305.5,550.7 309.5,548.4 313.6,552.6 317.5,549.2 321.5,546.3 325.5,547.9 329.6,544.4 333.6,543.1 337.5,544.4 341.5,553.6 345.6,559.5 349.6,559.5 353.5,556.3 357.5,554.7 361.5,558.4 365.6,557.4 369.6,560.3 373.5,556.3 377.5,560.3 381.6,555.5 385.6,552.6 389.5,562.6 393.5,561.1 397.5,559.9 401.4,559.0 405.4,562.6 409.5,557.4 413.5,559.5 417.4,558.4 421.4,558.4 425.5,553.6 429.5,559.0 433.4,557.4 437.4,559.5 441.5,562.6 445.5,557.4 449.5,558.4 453.4,557.1 457.4,557.4 461.5,553.6 465.5,553.1 469.4,548.4 473.4,554.7 477.4,553.9 481.3,552.0 485.5,546.3 489.4,547.3 493.4,545.7 497.4,540.4 501.5,543.1 505.4,546.0 509.4,554.2 513.4,554.2 517.3,552.0 521.5,554.7 525.4,560.6 529.4,555.5 533.3,557.1 537.5,552.3 540.0,549.5 541.6,548.8 545.6,548.4 549.5,549.5 553.5,555.8 557.4,558.7 561.4,559.5 565.4,552.3 569.5,552.0 573.5,547.6 577.4,548.4 581.5,551.5 585.5,549.5 589.5,544.9 593.4,545.7 597.6,544.9 601.5,544.9 605.5,550.7 609.5,547.3 613.6,546.3 617.5,545.7 621.5,549.5 625.5,547.6 629.6,550.7 633.6,551.5 637.5,553.1 641.5,552.0 645.6,549.5 649.6,553.6 653.5,551.5 657.5,550.4 661.5,550.7 665.6,544.4 669.6,541.5 673.5,541.5 677.5,544.4 681.6,547.3 685.6,542.0 689.5,538.9 693.5,537.7 697.5,536.5 700.0,536.5 701.6,536.2 705.6,534.1 709.5,538.1 713.5,545.2 717.4,541.5 721.4,542.5 725.4,542.8 729.5,544.4 733.5,547.6 737.4,552.3 741.5,555.5 745.5,550.7 749.5,547.3 753.4,549.2 757.6,546.8 761.5,545.2 765.5,542.5 769.5,539.6 773.6,540.4 777.5,537.7 781.5,545.2 785.5,542.8 789.6,541.5 793.6,542.5 797.5,539.3 801.5,538.4 804.7,547.3 809.6,549.5 813.5,549.5 817.5,548.4 821.5,561.8 825.6,556.8 829.6,557.9 833.5,565.8 837.5,567.9 841.6,570.1 845.6,570.6 849.5,571.4 853.5,566.6" fill="none" stroke="#3fc07a" stroke-width="1" stroke-linejoin="round"/>
<text x="92" y="14.400" class="cj" style="font-size:12px;fill:#111">现货黄金</text>
<text x="138.5" y="14.400" class="cj" style="font-size:12px;fill:#ff7a00">【</text>
<text x="150.700" y="14.400" class="cj" style="font-size:12px;fill:#ff7a00">日线</text>
<text x="177.200" y="14.400" class="cj" style="font-size:12px;fill:#ff7a00">】</text>
<circle cx="192.800" cy="11.200" r="3.9" fill="none" stroke="#ff8a2a" stroke-width="1"/><path d="M189 11.200h7.600M192.800 7.400v7.600" stroke="#ff8a2a" stroke-width="1" fill="none"/>
<rect x="205.500" y="1.500" width="11" height="12" fill="#fff" stroke="#20209a" stroke-width="1"/><path d="M216.500 1v13M205 13.500h12" stroke="#20209a" stroke-width="1.6" fill="none"/><path d="M206.300 9.200l2.800-4.200 2.300 2.700 4.300-2.400" stroke="#f02020" stroke-width="1.1" fill="none"/><path d="M206.500 11.700l3.400-3.500 2.700 2.500 3.200-2.600" stroke="#2050e0" stroke-width="1.1" fill="none"/>
<text x="220.1" y="13.8" textLength="127" lengthAdjust="spacing" class="ttl" style="fill:#111">MA(20,50,100,200,0,0)</text>
<text x="351.1" y="13.8" textLength="81.5" lengthAdjust="spacing" class="ttl" style="fill:#f04848">MA20:2688.45</text>
<text x="440.3" y="13.8" textLength="82.5" lengthAdjust="spacing" class="ttl" style="fill:#ffe84a">MA50:2653.39</text>
<text x="531.1" y="13.8" textLength="89" lengthAdjust="spacing" class="ttl" style="fill:#2a6fc4">MA100:2547.94</text>
<text x="627.8" y="13.8" textLength="88.8" lengthAdjust="spacing" class="ttl" style="fill:#b98068">MA200:2403.17</text>
<text x="725.1" y="13.8" textLength="75" lengthAdjust="spacing" class="ttl" style="fill:#3a8ff0">MA0:2594.47</text>
<text x="92.7" y="383.8" textLength="55.8" lengthAdjust="spacing" class="ttl" style="fill:#111">KDJ(9,3,3)</text>
<text x="153.3" y="383.8" textLength="41.5" lengthAdjust="spacing" class="ttl" style="fill:#5f9cf5">K:17.03</text>
<text x="203.2" y="383.8" textLength="42.8" lengthAdjust="spacing" class="ttl" style="fill:#4fc78a">D:17.22</text>
<text x="254.6" y="383.8" textLength="39" lengthAdjust="spacing" class="ttl" style="fill:#48a6e8">J:16.64</text>
<text x="91.6" y="508" textLength="68.5" lengthAdjust="spacing" class="ttl" style="fill:#111">RSI(14,14,2)</text>
<text x="164.6" y="508" textLength="59.6" lengthAdjust="spacing" class="ttl" style="fill:#5f9cf5">RSI1:40.19</text>
<text x="231.2" y="508" textLength="60.2" lengthAdjust="spacing" class="ttl" style="fill:#4fc78a">RSI2:40.19</text>
<text x="299.4" y="508" textLength="60.2" lengthAdjust="spacing" class="ttl" style="fill:#52a8ec">RSI3:75.59</text>
<text x="810" y="52.7" textLength="44.3" lengthAdjust="spacing" style="font-size:12px;font-weight:bold;fill:#e8475a">2789.95</text>
<path d="M803 56.500h7M805.500 54v4" stroke="#000" stroke-width="1" fill="none" shape-rendering="crispEdges"/>
<g shape-rendering="crispEdges"><polygon points="27.5,497.5 30.5,497.5 32.5,499.5 32.5,502.5 30.5,504.5 27.5,504.5 25.5,502.5 25.5,499.5" fill="#fff" stroke="#111" stroke-width="1" shape-rendering="geometricPrecision"/><g fill="#ff0000"><rect x="28" y="499" width="2" height="4"/><rect x="27" y="500" width="4" height="2"/><rect x="28" y="494" width="1" height="2"/><rect x="28" y="506" width="1" height="2"/><rect x="22" y="500" width="2" height="1"/><rect x="34" y="500" width="2" height="1"/><rect x="23" y="495" width="1" height="1"/><rect x="24" y="496" width="1" height="1"/><rect x="34" y="495" width="1" height="1"/><rect x="33" y="496" width="1" height="1"/><rect x="23" y="506" width="1" height="1"/><rect x="24" y="505" width="1" height="1"/><rect x="34" y="506" width="1" height="1"/><rect x="33" y="505" width="1" height="1"/></g></g>
<rect x="876.5" y="1.500" width="13" height="13" fill="#fff" stroke="#1e78d2" stroke-width="1"/>
<rect x="892.5" y="1.500" width="13" height="13" fill="#fff" stroke="#1e78d2" stroke-width="1"/>
<rect x="908.5" y="1.500" width="13" height="13" fill="#fff" stroke="#1e78d2" stroke-width="1"/>
<rect x="924.5" y="1.500" width="13" height="13" fill="#fff" stroke="#1e78d2" stroke-width="1"/>
<g fill="#1e78d2"><rect x="878" y="7.100" width="3" height="1.800"/><rect x="882" y="7.100" width="1.900" height="1.800"/><rect x="885" y="7.100" width="3" height="1.800"/><rect x="882" y="3.100" width="1.900" height="2.600"/><rect x="882" y="10.300" width="1.900" height="2.600"/></g>
<g stroke="#1e78d2" stroke-width="1" fill="none"><path d="M895.5 3.500v9.500M894 11.500h10"/></g><path d="M894 5l1.500-2 1.500 2zM894 11.500l1.800-1.500v3zM904.3 11.500l-1.800-1.500v3z M894.3 12.500l1.200 1.300 1.200-1.300z" fill="#1e78d2"/>
<g stroke="#1e78d2" stroke-width="1" fill="none"><path d="M911.5 3.500v9.500M910 11.500h10"/></g><path d="M910 5l1.500-2 1.500 2zM910 11.500l1.800-1.500v3zM920.3 11.500l-1.800-1.500v3z M910.3 12.500l1.200 1.300 1.200-1.300z" fill="#1e78d2"/>
<path d="M897.900 4.500h1.200v5h-1.200zM902 4.300v5.400l-2.900-2.700z" fill="#1e78d2"/>
<path d="M914 4.200l4.700 2.800-4.700 2.800z" fill="#1e78d2"/>
<rect x="926.500" y="3.500" width="3" height="9" fill="none" stroke="#1e78d2" stroke-width="1"/><path d="M928.500 7.300h4v-2.300l3.200 3-3.200 3v-2.300h-4z" fill="#1e78d2"/>
<line x1="113.5" y1="598" x2="113.5" y2="602.5" stroke="#c5cfdd"/>
<text x="115" y="610" textLength="44.2" lengthAdjust="spacing" class="dt">2024/03</text>
<line x1="193.5" y1="598" x2="193.5" y2="602.5" stroke="#c5cfdd"/>
<text x="195" y="610" textLength="44.2" lengthAdjust="spacing" class="dt">2024/04</text>
<line x1="281.5" y1="598" x2="281.5" y2="602.5" stroke="#c5cfdd"/>
<text x="283" y="610" textLength="44.2" lengthAdjust="spacing" class="dt">2024/05</text>
<line x1="373.5" y1="598" x2="373.5" y2="602.5" stroke="#c5cfdd"/>
<text x="375" y="610" textLength="44.2" lengthAdjust="spacing" class="dt">2024/06</text>
<line x1="453.5" y1="598" x2="453.5" y2="602.5" stroke="#c5cfdd"/>
<text x="455" y="610" textLength="44.2" lengthAdjust="spacing" class="dt">2024/07</text>
<line x1="545.5" y1="598" x2="545.5" y2="602.5" stroke="#c5cfdd"/>
<text x="547" y="610" textLength="44.2" lengthAdjust="spacing" class="dt">2024/08</text>
<line x1="633.5" y1="598" x2="633.5" y2="602.5" stroke="#c5cfdd"/>
<text x="635" y="610" textLength="44.2" lengthAdjust="spacing" class="dt">2024/09</text>
<line x1="717.5" y1="598" x2="717.5" y2="602.5" stroke="#c5cfdd"/>
<text x="719" y="610" textLength="44.2" lengthAdjust="spacing" class="dt">2024/10</text>
<line x1="809.5" y1="598" x2="809.5" y2="602.5" stroke="#c5cfdd"/>
<text x="811" y="610" textLength="44.2" lengthAdjust="spacing" class="dt">2024/11</text>
<rect x="19.500" y="597.500" width="70" height="19" fill="#fff" stroke="#c5cfdd"/>
<text x="34" y="613" class="cj" style="font-size:12.5px;font-weight:bold;fill:#ff7a00">日线</text>
<path d="M64.500 612.300l4.300-8.800 4.300 8.800z" fill="#ff7a00"/>
<rect x="20" y="617" width="39" height="15" fill="#ff6a00"/>
<text x="39.800" y="630" text-anchor="middle" class="cj" style="font-size:12px;fill:#fff">指标</text>
<text x="79.500" y="630" text-anchor="middle" class="cj" style="font-size:12px;fill:#1a1a2e">模板</text>
<text x="108" y="628.500" class="tab" style="fill:#ff7a00">VIP</text><text x="125.500" y="630" class="cj" style="font-size:12px;fill:#ff7a00">指标</text>
<line x1="99.5" y1="618" x2="99.5" y2="632" stroke="#c5cfdd"/>
<line x1="157.5" y1="618" x2="157.5" y2="632" stroke="#c5cfdd"/>
<line x1="186.5" y1="618" x2="186.5" y2="632" stroke="#c5cfdd"/>
<line x1="226.5" y1="618" x2="226.5" y2="632" stroke="#c5cfdd"/>
<line x1="265.5" y1="618" x2="265.5" y2="632" stroke="#c5cfdd"/>
<line x1="300.5" y1="618" x2="300.5" y2="632" stroke="#c5cfdd"/>
<line x1="339.5" y1="618" x2="339.5" y2="632" stroke="#c5cfdd"/>
<line x1="374.5" y1="618" x2="374.5" y2="632" stroke="#c5cfdd"/>
<line x1="407.5" y1="618" x2="407.5" y2="632" stroke="#c5cfdd"/>
<line x1="447.5" y1="618" x2="447.5" y2="632" stroke="#c5cfdd"/>
<line x1="481.5" y1="618" x2="481.5" y2="632" stroke="#c5cfdd"/>
<line x1="509.5" y1="618" x2="509.5" y2="632" stroke="#c5cfdd"/>
<line x1="543.5" y1="618" x2="543.5" y2="632" stroke="#c5cfdd"/>
<line x1="583.5" y1="618" x2="583.5" y2="632" stroke="#c5cfdd"/>
<text x="172.3" y="628.500" text-anchor="middle" class="tab">MA</text>
<text x="206.3" y="628.500" text-anchor="middle" class="tab">MACD</text>
<text x="246.3" y="628.500" text-anchor="middle" class="tab">BOLL</text>
<text x="283.3" y="628.500" text-anchor="middle" class="tab">VOL</text>
<text x="320" y="628.500" text-anchor="middle" class="tab">BIAS</text>
<text x="357" y="628.500" text-anchor="middle" class="tab">CCI</text>
<text x="391" y="628.500" text-anchor="middle" class="tab">KDJ</text>
<text x="427.5" y="628.500" text-anchor="middle" class="tab">LW&amp;</text>
<text x="464.5" y="628.500" text-anchor="middle" class="tab">RSI</text>
<text x="495.5" y="628.500" text-anchor="middle" class="tab">CR</text>
<text x="526.5" y="628.500" text-anchor="middle" class="tab">PSY</text>
<text x="563.500" y="630" text-anchor="middle" class="cj" style="font-size:12px;fill:#1a1a2e">设置</text>
</svg></body></html>
